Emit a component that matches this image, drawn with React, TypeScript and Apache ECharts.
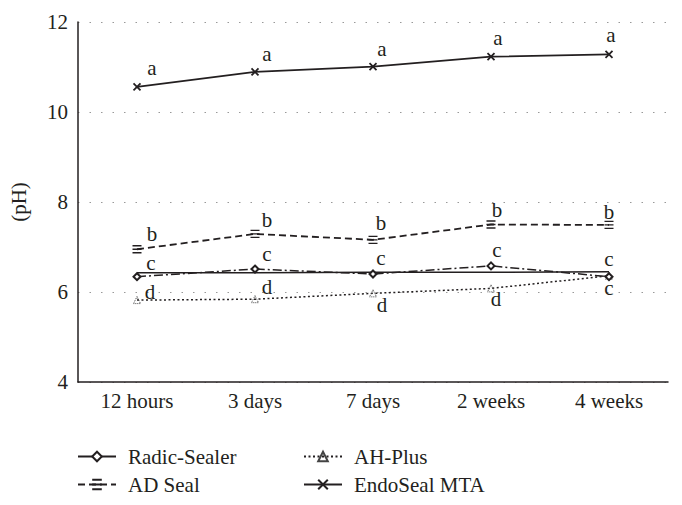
import React, { useEffect, useRef } from "react";
import * as echarts from "echarts";

const categories = ["12 hours", "3 days", "7 days", "2 weeks", "4 weeks"];
const radicSealer = [6.34, 6.51, 6.4, 6.58, 6.34];
const radicSealerFlat = [6.43, 6.43, 6.44, 6.44, 6.45];
const ahPlus = [5.82, 5.84, 5.97, 6.08, 6.36];
const adSeal = [6.95, 7.29, 7.16, 7.5, 7.49];
const endoSealMTA = [10.56, 10.89, 11.01, 11.23, 11.28];
const radicLetters = ["c", "c", "c", "c", "c"];
const ahLetters = ["d", "d", "d", "d", "c"];
const adLetters = ["b", "b", "b", "b", "b"];
const endoLetters = ["a", "a", "a", "a", "a"];
const yTicks = { min: 4, max: 12, interval: 2 };

const FONT = "'Liberation Serif', 'DejaVu Serif', serif";
const INK = "#231f20";

// label offsets (style only)
const endoOff = [[15, -19], [12, -18], [9, -18], [7, -19], [2, -19]];
const adOff = [[15, -15], [12, -14], [8, -17], [6, -15], [0, -13]];
const radicOff = [[14, -14], [12, -15], [8, -16], [6, -16], [0, -18]];
const ahOff = [[13, -8], [12, -12], [9, 12], [5, 11], [0, 12]];

function withLabels(values: number[], letters: string[], offs: number[][]) {
  return values.map((v, i) => ({
    value: v,
    label: {
      show: true,
      position: "inside",
      formatter: letters[i],
      offset: offs[i],
      fontFamily: FONT,
      fontSize: 21,
      color: INK,
    },
  }));
}

export default function App() {
  const ref = useRef<HTMLDivElement>(null);
  useEffect(() => {
    if (!ref.current) return;
    const chart = echarts.init(ref.current, undefined, { renderer: "svg" });
    const legendText = {
      fontFamily: FONT,
      fontSize: 21,
      color: INK,
      lineHeight: 21,
      padding: [0, 0, 0, 7],
    };
    chart.setOption({
      animation: false,
      backgroundColor: "#ffffff",
      grid: { left: 78, right: 14, top: 22, bottom: 123 },
      xAxis: {
        type: "category",
        data: categories,
        boundaryGap: true,
        axisLine: { lineStyle: { color: INK, width: 1.5 } },
        axisTick: { show: false },
        axisLabel: { fontFamily: FONT, fontSize: 21, color: INK, margin: 8 },
        splitLine: { show: false },
      },
      yAxis: {
        type: "value",
        min: yTicks.min,
        max: yTicks.max,
        interval: yTicks.interval,
        name: "(pH)",
        nameLocation: "middle",
        nameGap: 49,
        nameTextStyle: { fontFamily: FONT, fontSize: 21, color: INK },
        axisLine: { show: true, lineStyle: { color: INK, width: 1.5 } },
        axisTick: { show: false },
        axisLabel: { fontFamily: FONT, fontSize: 21, color: INK, margin: 10 },
        splitLine: {
          show: true,
          lineStyle: { color: "#999999", type: [1.5, 10], width: 1 },
        },
      },
      legend: [
        {
          orient: "vertical",
          left: 72,
          top: 441,
          itemWidth: 38,
          itemHeight: 12,
          itemGap: 7,
          data: [
            { name: "Radic-Sealer", lineStyle: { type: "solid" } },
            "AD Seal",
          ],
          textStyle: legendText,
        },
        {
          orient: "vertical",
          left: 298,
          top: 441,
          itemWidth: 38,
          itemHeight: 12,
          itemGap: 7,
          data: ["AH-Plus", "EndoSeal MTA"],
          textStyle: legendText,
        },
      ],
      series: [
        {
          name: "Radic-Sealer trend",
          type: "line",
          data: radicSealerFlat,
          symbol: "none",
          silent: true,
          lineStyle: { color: INK, width: 1.5, type: "solid" },
          z: 1,
        },
        {
          name: "Radic-Sealer",
          type: "line",
          data: withLabels(radicSealer, radicLetters, radicOff),
          symbol: "diamond",
          symbolSize: 7,
          itemStyle: { color: "#ffffff", borderColor: INK, borderWidth: 2 },
          lineStyle: { color: INK, width: 1.5, type: [9, 3, 2, 3] },
          z: 3,
        },
        {
          name: "AH-Plus",
          type: "line",
          data: withLabels(ahPlus, ahLetters, ahOff),
          symbol: "triangle",
          symbolSize: 7,
          itemStyle: {
            color: "rgba(255,255,255,0)",
            borderColor: "#444",
            borderWidth: 1,
            borderType: "dotted",
          },
          lineStyle: { color: INK, width: 1.5, type: [2, 2.5] },
          z: 2,
        },
        {
          name: "AD Seal",
          type: "line",
          data: withLabels(adSeal, adLetters, adOff),
          symbol: "path://M0,0H10M0,4H10M0,8H10",
          symbolSize: [9, 7],
          itemStyle: { color: "rgba(255,255,255,0)", borderColor: INK, borderWidth: 1.5 },
          lineStyle: { color: INK, width: 1.8, type: [7, 4] },
          z: 3,
        },
        {
          name: "EndoSeal MTA",
          type: "line",
          data: withLabels(endoSealMTA, endoLetters, endoOff),
          symbol: "path://M0,0L10,10M10,0L0,10",
          symbolSize: 7,
          itemStyle: { color: "rgba(255,255,255,0)", borderColor: INK, borderWidth: 1.8 },
          lineStyle: { color: INK, width: 1.8, type: "solid" },
          z: 3,
        },
      ],
    });
    return () => chart.dispose();
  }, []);
  return <div ref={ref} style={{ width: 682, height: 505, position: "absolute", left: 0, top: 0 }} />;
}
